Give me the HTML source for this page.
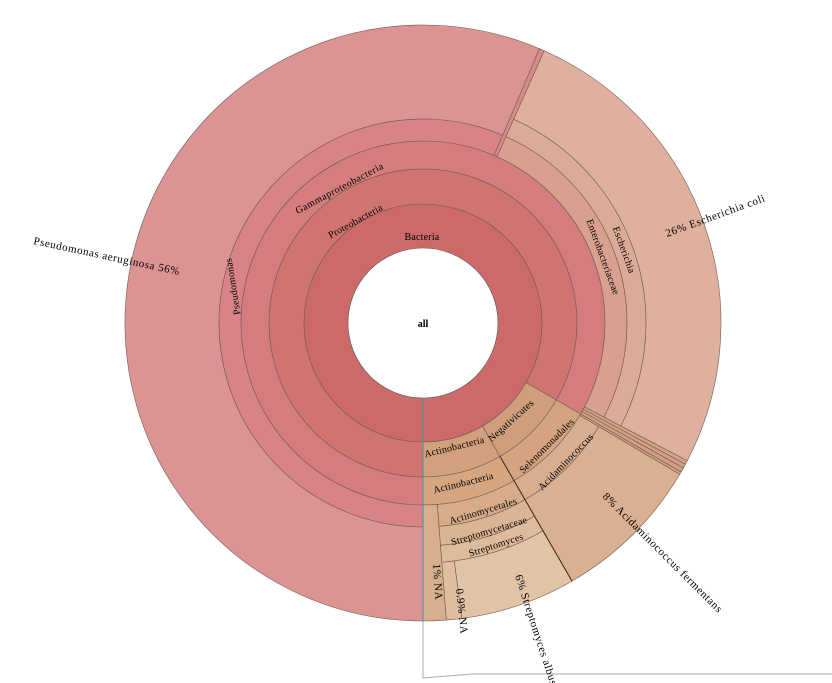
<!DOCTYPE html>
<html><head><meta charset="utf-8"><style>
html,body{margin:0;padding:0;background:#fff;}
svg{display:block;}
text{font-family:"Liberation Serif",serif;font-size:11px;fill:#000;letter-spacing:0.6px;}
text.i{font-size:10px;letter-spacing:0.2px;}
</style></head><body>
<svg id="s" width="832" height="683" viewBox="0 0 832 683" xmlns="http://www.w3.org/2000/svg">
<g id="w"></g>
<path d="M423,398 L423,678 L473,674 L832,674" fill="none" stroke="#aaa" stroke-width="1"/>
<line x1="423" y1="398" x2="423" y2="622" stroke="#3a9a9a" stroke-width="1"/>
<circle cx="423" cy="323" r="75" fill="#fff" stroke="#555" stroke-width="0.6"/>
<text x="423" y="327" text-anchor="middle" style="font-weight:bold;font-size:10px;letter-spacing:0">all</text>
<text class="i" x="422" y="240" text-anchor="middle">Bacteria</text>
<text class="i" transform="translate(357,224) rotate(-29)" text-anchor="middle">Proteobacteria</text>
<text class="i" transform="translate(341,191) rotate(-28)" text-anchor="middle" style="letter-spacing:0.5px">Gammaproteobacteria</text>
<text class="i" transform="translate(236,286) rotate(-99)" text-anchor="middle">Pseudomonas</text>
<text class="i" transform="translate(600,258) rotate(70)" text-anchor="middle">Enterobacteriaceae</text>
<text class="i" transform="translate(621,251) rotate(70)" text-anchor="middle">Escherichia</text>
<text transform="translate(667,237) rotate(-20)">26%  Escherichia coli</text>
<text transform="translate(33,244) rotate(12)">Pseudomonas aeruginosa   56%</text>
<text class="i" transform="translate(455,450) rotate(-14)" text-anchor="middle">Actinobacteria</text>
<text class="i" transform="translate(513,423) rotate(-42)" text-anchor="middle">Negativicutes</text>
<text class="i" transform="translate(464,486) rotate(-14)" text-anchor="middle">Actinobacteria</text>
<text class="i" transform="translate(549,448) rotate(-45)" text-anchor="middle">Selenomonadales</text>
<text class="i" transform="translate(484,514) rotate(-17)" text-anchor="middle">Actinomycetales</text>
<text class="i" transform="translate(568,464) rotate(-46)" text-anchor="middle">Acidaminococcus</text>
<text class="i" transform="translate(490,534) rotate(-17)" text-anchor="middle">Streptomycetaceae</text>
<text class="i" transform="translate(497,548) rotate(-18)" text-anchor="middle">Streptomyces</text>
<text transform="translate(602,497) rotate(45)">8%  Acidaminococcus fermentans</text>
<text transform="translate(515,576) rotate(72)">6%  Streptomyces albus</text>
<text transform="translate(433,564) rotate(86)">1%  NA</text>
<text transform="translate(456,589) rotate(84)">0.9%  NA</text>
</svg>
<script>
(function(){
var cx=423,cy=323,NS="http://www.w3.org/2000/svg";
function P(r,a){a=a*Math.PI/180;return (cx+r*Math.sin(a)).toFixed(2)+","+(cy-r*Math.cos(a)).toFixed(2);}
function arc(r0,r1,a0,a1){var l=(a1-a0)>180?1:0;
return "M"+P(r0,a0)+" L"+P(r1,a0)+" A"+r1+","+r1+" 0 "+l+" 1 "+P(r1,a1)+" L"+P(r0,a1)+" A"+r0+","+r0+" 0 "+l+" 0 "+P(r0,a0)+" Z";}
var g=document.getElementById("w");
var c=document.createElementNS(NS,"circle");c.setAttribute("cx",cx);c.setAttribute("cy",cy);c.setAttribute("r",119);
c.setAttribute("fill","#cc6a6a");c.setAttribute("stroke","#6e5a55");c.setAttribute("stroke-width","0.6");g.appendChild(c);
var d=[
[119,154,180,480,"#d07472"],[119,154,150,180,"#d2a07c"],[119,154,120,150,"#cf9e7a"],
[154,182,180,480,"#d47c7e"],[154,182,150,180,"#d5a680"],[154,182,120,150,"#d4a480"],
[182,204,180,383,"#d88487"],[182,298,383,384,"#d88a8a"],
[182,204,384,477.5,"#d9a08f"],
[182,298,477.5,478.3,"#d6a286"],[182,298,478.3,479.1,"#d4a084"],[182,298,479.1,480,"#d39e82"],
[182,204,150,175.5,"#d8ac88"],[182,298,175.5,180,"#d8ae8c"],
[182,204,120.5,150,"#d9ad8f"],[204,298,120.5,150,"#d9b092"],[182,298,120,120.5,"#d2a080"],
[204,298,180,383,"#db9394"],
[204,223,384,477.5,"#dcaa98"],[223,298,384,477.5,"#dfb09d"],
[204,223,150,175.5,"#dbb593"],[223,240,150,175.5,"#debb9a"],
[240,298,172.5,175.5,"#dfbd9d"],[240,298,150,172.5,"#e1c3a5"]
];
d.forEach(function(e){var p=document.createElementNS(NS,"path");
p.setAttribute("d",arc(e[0],e[1],e[2],e[3]));p.setAttribute("fill",e[4]);
p.setAttribute("stroke","#6e5a55");p.setAttribute("stroke-width","0.6");g.appendChild(p);});
var ln=document.createElementNS(NS,"path");
ln.setAttribute("d","M"+P(154,150)+" L"+P(298,150));ln.setAttribute("stroke","#3a2a20");ln.setAttribute("stroke-width","1");
g.appendChild(ln);
})();
</script>
</body></html>
